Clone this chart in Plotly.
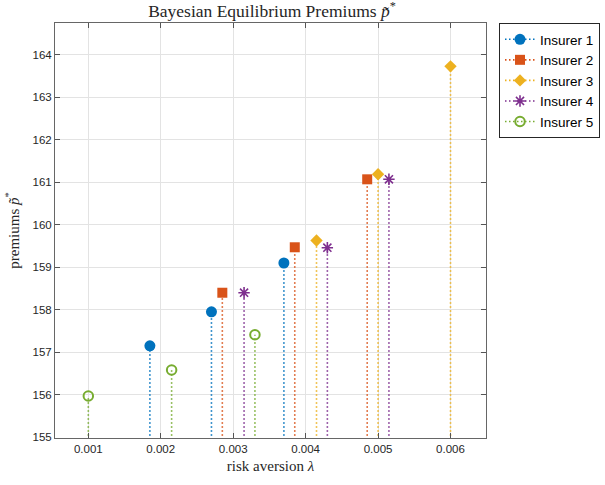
import plotly.graph_objects as go

# ---- data ----
insurers = ["Insurer 1", "Insurer 2", "Insurer 3", "Insurer 4", "Insurer 5"]
lambda_1 = [0.00185, 0.00270, 0.00370]
lambda_2 = [0.00285, 0.00385, 0.00485]
lambda_3 = [0.00415, 0.00500, 0.00600]
lambda_4 = [0.00315, 0.00430, 0.00515]
lambda_5 = [0.00100, 0.00215, 0.00330]
premium_1 = [157.15, 157.95, 159.10]
premium_2 = [158.40, 159.47, 161.07]
premium_3 = [159.63, 161.19, 163.73]
premium_4 = [158.40, 159.46, 161.07]
premium_5 = [155.97, 156.58, 157.41]
x_ticks = [0.001, 0.002, 0.003, 0.004, 0.005, 0.006]
x_tick_labels = ["0.001", "0.002", "0.003", "0.004", "0.005", "0.006"]
y_ticks = [155, 156, 157, 158, 159, 160, 161, 162, 163, 164]

lambdas = [lambda_1, lambda_2, lambda_3, lambda_4, lambda_5]
premiums = [premium_1, premium_2, premium_3, premium_4, premium_5]

colors = ["#0072BD", "#D95319", "#EDB120", "#7E2F8E", "#77AC30"]
symbols = ["circle", "square", "diamond", "asterisk-open", "circle-open"]
sizes = [11, 10, 9.5, 9.5, 9.5]
line_w = [0, 0, 0, 1.6, 2]

BASE = 154.0  # stem base (below the visible range, clipped)

fig = go.Figure()
for name, xs, ys, c, s, sz, lw in zip(insurers, lambdas, premiums, colors, symbols, sizes, line_w):
    sx, sy = [], []
    for xv, yv in zip(xs, ys):
        sx += [xv, xv, None]
        sy += [BASE, yv, None]
    fig.add_trace(go.Scatter(
        x=sx, y=sy, name=name, mode="lines+markers",
        line=dict(color=c, width=1.6, dash="1.5px,2.5px"),
        marker=dict(symbol=s, size=sz, color=c, line=dict(color=c, width=lw)),
        cliponaxis=True,
    ))

serif = "Liberation Serif, Times New Roman, serif"
sans = "Liberation Sans, Arial, Helvetica, sans-serif"

fig.update_layout(
    width=605, height=485,
    margin=dict(l=55, r=116, t=23, b=47),
    paper_bgcolor="white", plot_bgcolor="white",
    title=dict(text="Bayesian Equilibrium Premiums <i>p̃</i><sup>*</sup>",
               x=(55 + 489) / 2 / 605, xanchor="center", y=1 - 11 / 485, yanchor="middle",
               font=dict(family=serif, size=17.5, color="#262626")),
    showlegend=True,
    legend=dict(xref="container", yref="container",
                x=499 / 605, xanchor="left", y=1 - 23 / 485, yanchor="top",
                bgcolor="white", bordercolor="#262626", borderwidth=1,
                font=dict(family=sans, size=13.5, color="#000000"),
                tracegroupgap=0, itemwidth=30),
    font=dict(family=sans, size=11.5, color="#262626"),
)

fig.update_xaxes(
    range=[0.00054, 0.00649], tickvals=x_ticks, ticktext=x_tick_labels,
    showgrid=True, gridcolor="#e3e3e3", gridwidth=1, zeroline=False,
    showline=True, linecolor="#666666", linewidth=1, mirror="ticks",
    ticks="inside", ticklen=5, tickcolor="#555555",
    tickfont=dict(family=sans, size=11.5, color="#262626"),
    title=dict(text="risk aversion <i>λ</i>", font=dict(family=serif, size=15, color="#262626"), standoff=6),
)
fig.update_yaxes(
    range=[154.98, 164.75], tickvals=y_ticks,
    showgrid=True, gridcolor="#e3e3e3", gridwidth=1, zeroline=False,
    showline=True, linecolor="#666666", linewidth=1, mirror="ticks",
    ticks="inside", ticklen=5, tickcolor="#555555",
    tickfont=dict(family=sans, size=11.5, color="#262626"),
    title=dict(text="premiums <i>p̃</i><sup>*</sup>", font=dict(family=serif, size=15, color="#262626"), standoff=9),
)

fig.write_html("out.html")
